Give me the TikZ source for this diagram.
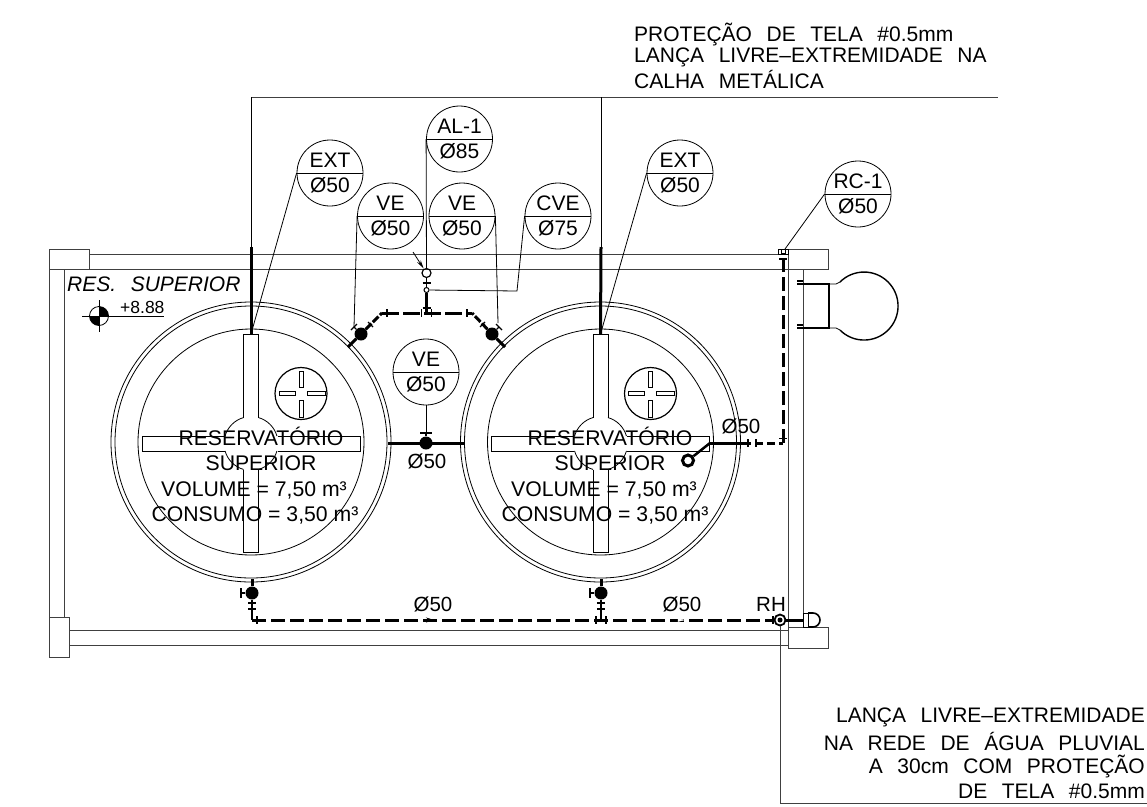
\documentclass[tikz,border=0pt]{standalone}
\usepackage{fontspec}
\setmainfont{Liberation Sans}
\newfontfamily\notefont[WordSpace=2.5]{Liberation Sans}
\usetikzlibrary{arrows.meta,positioning,shapes.multipart}
\newcommand{\bubtext}[2]{#1\rule[-5pt]{0pt}{5pt}\nodepart{lower}\rule{0pt}{19pt}#2}
\tikzset{
	thin line/.style={line width=0.8pt},
	wall/.style={line width=0.9pt,draw=black!75},
	pipe/.style={line width=3pt},
	pipedash/.style={line width=3pt,dash pattern=on 14pt off 5pt},
	tick/.style={line width=1.2pt},
	ball/.style={circle,fill=black,inner sep=0pt,minimum size=13pt},
	bubble/.style={circle split,draw,line width=0.8pt,inner sep=0pt,minimum size=66pt,font=\fontsize{21}{22}\selectfont},
	plabel/.style={anchor=base,inner sep=0pt,font=\fontsize{20.5}{22}\selectfont},
	tanktext/.style={anchor=base,inner sep=0pt,font=\fontsize{21.2}{24}\selectfont},
	notetext/.style={inner sep=0pt,font=\notefont\fontsize{21}{24}\selectfont},
	tank/.pic={
		\node[circle,draw,thin line,inner sep=0pt,minimum size=280pt] (-rim) at (0,0) {};
		\node[circle,draw,thin line,inner sep=0pt,minimum size=272pt] (-rimin) at (0,0) {};
		\node[circle,draw,thin line,inner sep=0pt,minimum size=226pt] (-wall) at (0,0) {};
		\coordinate (-top) at (0,-108);
		\draw[thin line] (-7.5,-24.5) -- (-7.5,-108) -- (7.5,-108) -- (7.5,-24.5);
		\draw[thin line] (-7.5,27.5) -- (-7.5,110) -- (7.5,110) -- (7.5,27.5);
		\draw[thin line] (-26.5,-6) -- (-109,-6) -- (-109,9) -- (-26.5,9);
		\draw[thin line] (26.5,-6) -- (109,-6) -- (109,9) -- (26.5,9);
		\draw[thin line] (0,1.5) ++(106:27) arc[start angle=106,end angle=164,radius=27];
		\draw[thin line] (0,1.5) ++(16:27) arc[start angle=16,end angle=74,radius=27];
		\draw[thin line] (0,1.5) ++(196:27) arc[start angle=196,end angle=254,radius=27];
		\draw[thin line] (0,1.5) ++(286:27) arc[start angle=286,end angle=344,radius=27];
		\node[circle,draw,line width=1.2pt,inner sep=0pt,minimum size=52pt] (-hatch) at (50,-48.5) {};
		\draw[thin line] (48,-70.5) rectangle (52,-54.5);
		\draw[thin line] (48,-41.5) rectangle (52,-24.5);
		\draw[thin line] (28,-50.5) rectangle (44,-46.5);
		\draw[thin line] (56,-50.5) rectangle (74,-46.5);
	}
}

\begin{document}
\begin{tikzpicture}[x=1pt,y=-1pt]
            \useasboundingbox (0,0) rectangle (1147,806);
            % walls
            \draw[wall] (49,269) rectangle (89,249);
            \draw[wall] (788,269) rectangle (828,249);
            \draw[wall] (49,617) rectangle (69,657.5);
            \draw[wall] (788,627) rectangle (828,648);
            \draw[wall] (89,254) -- (778,254);
            \draw[wall] (89,269) -- (788,269);
            \draw[wall] (69,630) -- (788,630);
            \draw[wall] (69,645) -- (788,645);
            \draw[wall] (49,269) -- (49,617);
            \draw[wall] (64,269) -- (64,617);
            \draw[wall] (788,269) -- (788,627);
            \draw[wall] (803,269) -- (803,627);

            % tanks
            \pic (ta) at (251,442) {tank};
            \pic (tb) at (600.5,442) {tank};
            \node[tanktext] (resa) at (261,445) {RESERVATÓRIO};
            \node[tanktext] (supa) at (261,470) {SUPERIOR};
            \node[tanktext] (vola) at (254,496) {VOLUME = 7,50 m³};
            \node[tanktext] (cona) at (255,521) {CONSUMO = 3,50 m³};
            \node[tanktext] (resb) at (610,445) {RESERVATÓRIO};
            \node[tanktext] (supb) at (610,470) {SUPERIOR};
            \node[tanktext] (volb) at (604,496) {VOLUME = 7,50 m³};
            \node[tanktext] (conb) at (605,521) {CONSUMO = 3,50 m³};

            % bubbles
            \node[bubble] (exta) at (330,173) {\bubtext{EXT}{Ø50}};
            \node[bubble] (extb) at (680,173) {\bubtext{EXT}{Ø50}};
            \node[bubble] (al) at (459.5,139) {\bubtext{AL-1}{Ø85}};
            \node[bubble] (vea) at (390.5,216) {\bubtext{VE}{Ø50}};
            \node[bubble] (veb) at (462,216) {\bubtext{VE}{Ø50}};
            \node[bubble] (cve) at (558,216) {\bubtext{CVE}{Ø75}};
            \node[bubble] (rc) at (858,194) {\bubtext{RC-1}{Ø50}};
            \node[bubble] (vec) at (426,372) {\bubtext{VE}{Ø50}};

            % top pipe
            \node[ball] (bva) at (361,334) {};
            \node[ball] (bvb) at (492,334) {};
            \coordinate (tl) at (382,313);
            \coordinate (tr) at (472,313);
            \coordinate (tee) at (426.5,313);
            \coordinate (rima) at (348,347);
            \coordinate (rimb) at (505,347);
            \node[circle,draw,line width=1.2pt,inner sep=0pt,minimum size=9pt] (drain) at (426.5,273) {};
            \node[circle,draw,line width=1pt,fill=white,inner sep=0pt,minimum size=5pt] (cvenode) at (426.5,290) {};
            \coordinate (fall) at (413,252);
            \draw[pipedash,dash pattern=on 17pt off 4pt] (tl) -- (tr);
            \draw[pipedash,dash pattern=on 8pt off 2pt] (bva) -- (tl);
            \draw[pipedash,dash pattern=on 8pt off 2pt] (bvb) -- (tr);
            \draw[pipe] (bva) -- (rima);
            \draw[pipe] (bvb) -- (rimb);
            \draw[line width=2.5pt] (tee) -- (cvenode);
            \draw[line width=1.5pt] (cvenode) -- (drain);
            \draw[thin line,-{Stealth[length=9pt,width=4pt]}] (fall) -- (drain);
            \draw[tick] (387,309) -- (387,317);
            \draw[tick] (421.5,309) -- (421.5,317);
            \draw[tick] (431.5,309) -- (431.5,317);
            \draw[tick] (467,309) -- (467,317);
            \draw[tick] (422.5,308) -- (430.5,308);
            \draw[tick] (422.5,283) -- (430.5,283);
            \draw[tick] (bva) -- (354,327);
            \draw[tick] (351,330) -- (357,324);
            \draw[tick] (bvb) -- (499,327);
            \draw[tick] (496,324) -- (502,330);
            \draw[tick] (368,322) -- (373,327);
            \draw[tick] (485,322) -- (480,327);

            % pipe between tanks
            \node[ball] (bvc) at (426,443) {};
            \coordinate (lnka) at (388,443);
            \coordinate (lnkb) at (465,443);
            \draw[pipe] (lnka) -- (lnkb);
            \draw[tick] (420,433) -- (432,433);
            \draw[tick] (426,433) -- (bvc);
            \node[plabel] (dlnk) at (427,468) {Ø50};

            % overflow pipe
            \node[circle,draw,line width=3pt,inner sep=0pt,minimum size=11pt] (suc) at (688,460.5) {};
            \coordinate (ova) at (710,443);
            \coordinate (ovb) at (743,443);
            \coordinate (ovc) at (783,443);
            \coordinate (ovd) at (783,254);
            \draw[line width=2.5pt] (suc) -- (ova);
            \draw[pipe] (ova) -- (ovb);
            \draw[pipedash,dash pattern=on 8pt off 4pt] (ovb) -- (ovc);
            \draw[pipedash] (ovc) -- (ovd);
            \draw[tick] (748,439) -- (748,447);
            \draw[tick] (756,439) -- (756,447);
            \draw[tick] (779,438.5) -- (787,438.5);
            \draw[tick] (779,259) -- (787,259);
            \draw[thin line] (778,249) rectangle (788,254);
            \draw[thin line] (781.5,249.5) rectangle (785,253.5);
            \node[plabel] (dov) at (741,433) {Ø50};

            % bottom pipe
            \node[ball] (bvd) at (252,593) {};
            \node[ball] (bve) at (601,593) {};
            \node[circle,draw,line width=1.8pt,inner sep=0pt,minimum size=11pt] (rh) at (780,620) {};
            \node[circle,fill=black,inner sep=0pt,minimum size=5pt] (rhin) at (780,620) {};
            \coordinate (pa) at (252,620);
            \coordinate (pb) at (601,620);
            \coordinate (pc) at (772,620);
            \coordinate (hose) at (803,620);
            \draw[pipedash] (pa) -- (pc);
            \draw[pipe] (pc) -- (rh);
            \draw[pipe] (rh) -- (hose);
            \draw[pipe] (252,579) -- (bvd);
            \draw[pipe] (601,579) -- (bve);
            \draw[line width=2.5pt] (bvd) -- (pa);
            \draw[line width=2.5pt] (bve) -- (pb);
            \draw[tick] (bvd) -- (241,593);
            \draw[tick] (241,588) -- (241,598);
            \draw[tick] (bve) -- (590,593);
            \draw[tick] (590,588) -- (590,598);
            \draw[tick] (248,603) -- (256,603);
            \draw[tick] (248,609) -- (256,609);
            \draw[tick] (597,603) -- (605,603);
            \draw[tick] (597,609) -- (605,609);
            \draw[tick] (257,616) -- (257,624);
            \draw[tick] (596,616) -- (596,624);
            \draw[tick] (606,616) -- (606,624);
            \draw[tick] (773,616) -- (773,624);
            \draw[-{Stealth[length=8pt,width=5pt]}] (424,620) -- (434,620);
            \draw[white,fill=white] (678,618.5) -- (684,620) -- (678,621.5) -- cycle;
            \node[plabel] (dpa) at (433,611) {Ø50};
            \node[plabel] (dpb) at (682,611) {Ø50};
            \node[plabel] (rhlab) at (771,611) {RH};
            \draw[thin line,fill=white] (803,613) rectangle (808,627);
            \draw[line width=1.6pt] (808,613) -- (813,613) arc[start angle=-90,end angle=90,radius=7] -- (808,627);
            \coordinate (outb) at (780,803);
            \coordinate (oute) at (1147,803);
            \draw[wall] (rh) -- (outb) -- (oute);

            % gutter leaders
            \coordinate (topa) at (251,97);
            \coordinate (topb) at (601,97);
            \coordinate (tope) at (998,97);
            \coordinate (risa) at (251,247);
            \coordinate (risb) at (601,247);
            \draw[wall] (topa) -- (tope);
            \draw[thin line] (topa) -- (risa);
            \draw[thin line] (topb) -- (risb);
            \draw[pipe] (risa) -- (ta-top);
            \draw[pipe] (risb) -- (tb-top);

            % leaders
            \coordinate (rcend) at (785,249);
            \coordinate (vebend) at (498,323);
            \coordinate (veaend) at (354,327);
            \coordinate (cvebend) at (517,291);
            \draw[thin line] (exta.west) -- (ta-top);
            \draw[thin line] (extb.west) -- (tb-top);
            \draw[thin line] (al.west) -- (drain);
            \draw[thin line] (vea.west) -- (veaend);
            \draw[thin line] (veb.east) -- (vebend);
            \draw[thin line] (cve.west) -- (cvebend) -- (cvenode);
            \draw[thin line] (rc.west) -- (rcend);
            \draw[thin line] (vec.south) -- (426,433);

            % bowl on the wall
            \draw[line width=1.4pt] (840,282) arc[start angle=-135,end angle=135,radius=34];
            \draw[line width=1.4pt] (797,284) -- (829,284) -- (829,328) -- (797,328);
            \draw[thin line] (829,284) -- (836,284) -- (840,282);
            \draw[thin line] (829,328) -- (836,328) -- (840,330);
            \draw[tick] (797,281) -- (803,281);
            \draw[tick] (797,325) -- (803,325);

            % level mark
            \node[circle,draw,thin line,inner sep=0pt,minimum size=19pt] (lvl) at (99,316) {};
            \fill (lvl.center) -- (108.5,316) arc[start angle=0,end angle=-90,radius=9.5] -- cycle;
            \fill (lvl.center) -- (89.5,316) arc[start angle=180,end angle=90,radius=9.5] -- cycle;
            \coordinate (lvla) at (82,316);
            \coordinate (lvlb) at (164,316);
            \coordinate (lvlc) at (99,300);
            \coordinate (lvld) at (99,332);
            \draw[thin line] (lvla) -- (lvlb);
            \draw[thin line] (lvlc) -- (lvld);
            \node[anchor=base west,inner sep=0pt,font=\fontsize{17.5}{19}\selectfont] (lvltext) at (120,313) {+8.88};
            \node[notetext,anchor=base west] (reslab) at (67,291) {\itshape RES. SUPERIOR};

            % notes
            \node[notetext,anchor=base west] (nota) at (634,41) {PROTEÇÃO DE TELA \#0.5mm};
            \node[notetext,anchor=base west] (notb) at (634,62) {LANÇA LIVRE–EXTREMIDADE NA};
            \node[notetext,anchor=base west] (notc) at (634,88) {CALHA METÁLICA};
            \node[notetext,anchor=base east] (notd) at (1145,722) {LANÇA LIVRE–EXTREMIDADE};
            \node[notetext,anchor=base east] (note) at (1145,750) {NA REDE DE ÁGUA PLUVIAL};
            \node[notetext,anchor=base east] (notf) at (1145,773) {A 30cm COM PROTEÇÃO};
            \node[notetext,anchor=base east] (notg) at (1145,798) {DE TELA \#0.5mm};
\end{tikzpicture}
\end{document}
